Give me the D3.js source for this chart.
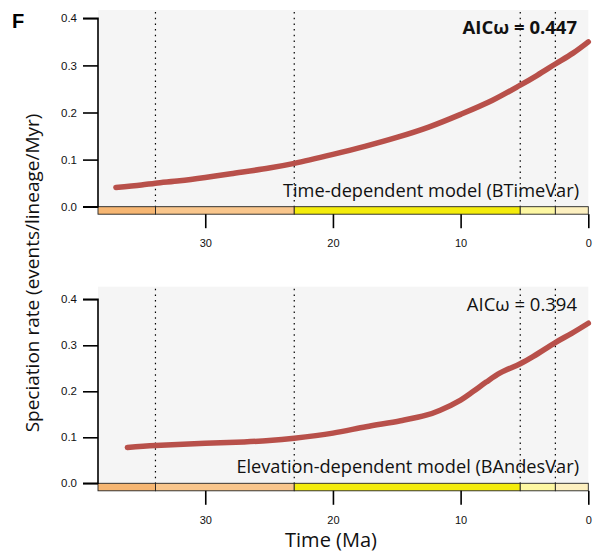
<!DOCTYPE html>
<html><head><meta charset="utf-8">
<script src="https://cdn.jsdelivr.net/npm/d3@7"></script>
<style>body{margin:0;background:#fff}svg{display:block}</style>
</head><body>
<script>
// ---- data ----
const epochNames = ["Eocene","Oligocene","Miocene","Pliocene","Pleistocene"];
const epochStart = [38.4, 33.9, 23.03, 5.33, 2.58];
const epochEnd   = [33.9, 23.03, 5.33, 2.58, 0];
const epochColors = ["#F6B672","#F9C68C","#F4EC0C","#FDF7A2","#FDF0C0"];
const xTicks = [30, 20, 10, 0];
const yTicks = [0, 0.1, 0.2, 0.3, 0.4];

const timeModelT = [37.0, 35, 33.9, 32, 30, 28, 25, 23.03, 20, 17.5, 15, 12.5, 10, 7.5, 5.33, 4, 2.58, 1.2, 0];
const timeModelR = [0.041, 0.046, 0.050, 0.055, 0.062, 0.070, 0.082, 0.092, 0.111, 0.128, 0.147, 0.169, 0.196, 0.226, 0.258, 0.279, 0.303, 0.326, 0.350];

const elevModelT = [36.1, 33.9, 30, 27, 25, 23.03, 20, 17.4, 14.7, 12.7, 11.6, 10, 9.0, 8.0, 6.9, 5.33, 4.3, 2.58, 1.3, 0];
const elevModelR = [0.078, 0.082, 0.087, 0.090, 0.093, 0.098, 0.109, 0.123, 0.136, 0.148, 0.159, 0.181, 0.200, 0.220, 0.240, 0.260, 0.276, 0.306, 0.326, 0.348];

const panels = [
  {t: timeModelT, r: timeModelR, aic: "AICω = 0.447", aicBold: true, model: "Time-dependent model (BTimeVar)",
   top: 10, y4: 18.3, y0: 206.7},
  {t: elevModelT, r: elevModelR, aic: "AICω = 0.394", aicBold: false, model: "Elevation-dependent model (BAndesVar)",
   top: 286.7, y4: 299.3, y0: 483.3}
];

const W = 596, H = 552;
const svg = d3.select("body").append("svg").attr("width", W).attr("height", H);
const x = d3.scaleLinear().domain([38.4, 0]).range([98, 588.3]);
const sans = "'Liberation Sans', Arial, Helvetica, sans-serif";
const myriad = "'Open Sans', 'Noto Sans', sans-serif";

panels.forEach(p => {
  const y = d3.scaleLinear().domain([0, 0.4]).range([p.y0, p.y4]);
  const g = svg.append("g");
  // background
  g.append("rect").attr("x", x(38.4)).attr("y", p.top).attr("width", x(0) - x(38.4)).attr("height", p.y0 - p.top).attr("fill", "#F5F5F5");
  // dotted epoch boundaries
  [33.9, 23.03, 5.33, 2.58].forEach(b => {
    g.append("line").attr("x1", x(b)).attr("x2", x(b)).attr("y1", p.top + 2).attr("y2", p.y0)
      .attr("stroke", "#000").attr("stroke-width", 1.2).attr("stroke-dasharray", "1.5,4.2");
  });
  // epoch bar
  const barH = 7.5;
  epochNames.forEach((e, i) => {
    g.append("rect").attr("x", x(epochStart[i])).attr("y", p.y0).attr("width", x(epochEnd[i]) - x(epochStart[i])).attr("height", barH)
      .attr("fill", epochColors[i]).attr("stroke", "#222").attr("stroke-width", 0.9);
  });
  // y axis
  const ya = d3.axisLeft(y).tickValues(yTicks).tickFormat(d3.format(".1f")).tickSize(15).tickPadding(6);
  const yg = g.append("g").attr("transform", `translate(${x(38.4)},0)`).call(ya);
  yg.select(".domain").attr("d", `M-15,${y(0.4)}H0V${y(0)}H-15`).attr("stroke-width", 1.6);
  yg.selectAll(".tick line").attr("stroke-width", 1.6);
  yg.selectAll("text").attr("font-family", sans).attr("font-size", 11.5).attr("fill", "#111");
  // x axis
  const xa = d3.axisBottom(x).tickValues(xTicks).tickSize(14).tickPadding(11).tickFormat(d => d);
  const xg = g.append("g").attr("transform", `translate(0,${p.y0 + barH})`).call(xa);
  xg.select(".domain").remove();
  xg.selectAll(".tick line").attr("stroke-width", 1.6);
  xg.selectAll("text").attr("font-family", sans).attr("font-size", 11).attr("fill", "#111");
  // curve
  const line = d3.line().x((d, i) => x(p.t[i])).y((d, i) => y(p.r[i])).curve(d3.curveCatmullRom);
  g.append("path").datum(p.r).attr("d", line).attr("fill", "none").attr("stroke", "#B8504A")
    .attr("stroke-width", 5.5).attr("stroke-linecap", "round");
  // labels
  g.append("text").attr("x", 577).attr("y", p.top + 24).attr("text-anchor", "end")
    .attr("font-family", myriad).attr("font-size", 18.5).attr("font-weight", p.aicBold ? "bold" : "normal")
    .attr("fill", "#111").text(p.aic);
  g.append("text").attr("x", 579).attr("y", p.y0 - 10).attr("text-anchor", "end")
    .attr("font-family", myriad).attr("font-size", 18.2).attr("fill", "#111").text(p.model);
});

// panel letter
svg.append("text").attr("x", 12).attr("y", 28).attr("font-family", sans).attr("font-weight", "bold").attr("font-size", 20).text("F");
// axis titles
svg.append("text").attr("transform", "translate(39,273) rotate(-90)").attr("text-anchor", "middle")
  .attr("font-family", myriad).attr("font-size", 19).attr("fill", "#111").text("Speciation rate (events/lineage/Myr)");
svg.append("text").attr("x", 331).attr("y", 547).attr("text-anchor", "middle")
  .attr("font-family", myriad).attr("font-size", 20).attr("fill", "#111").text("Time (Ma)");
</script>
</body></html>
